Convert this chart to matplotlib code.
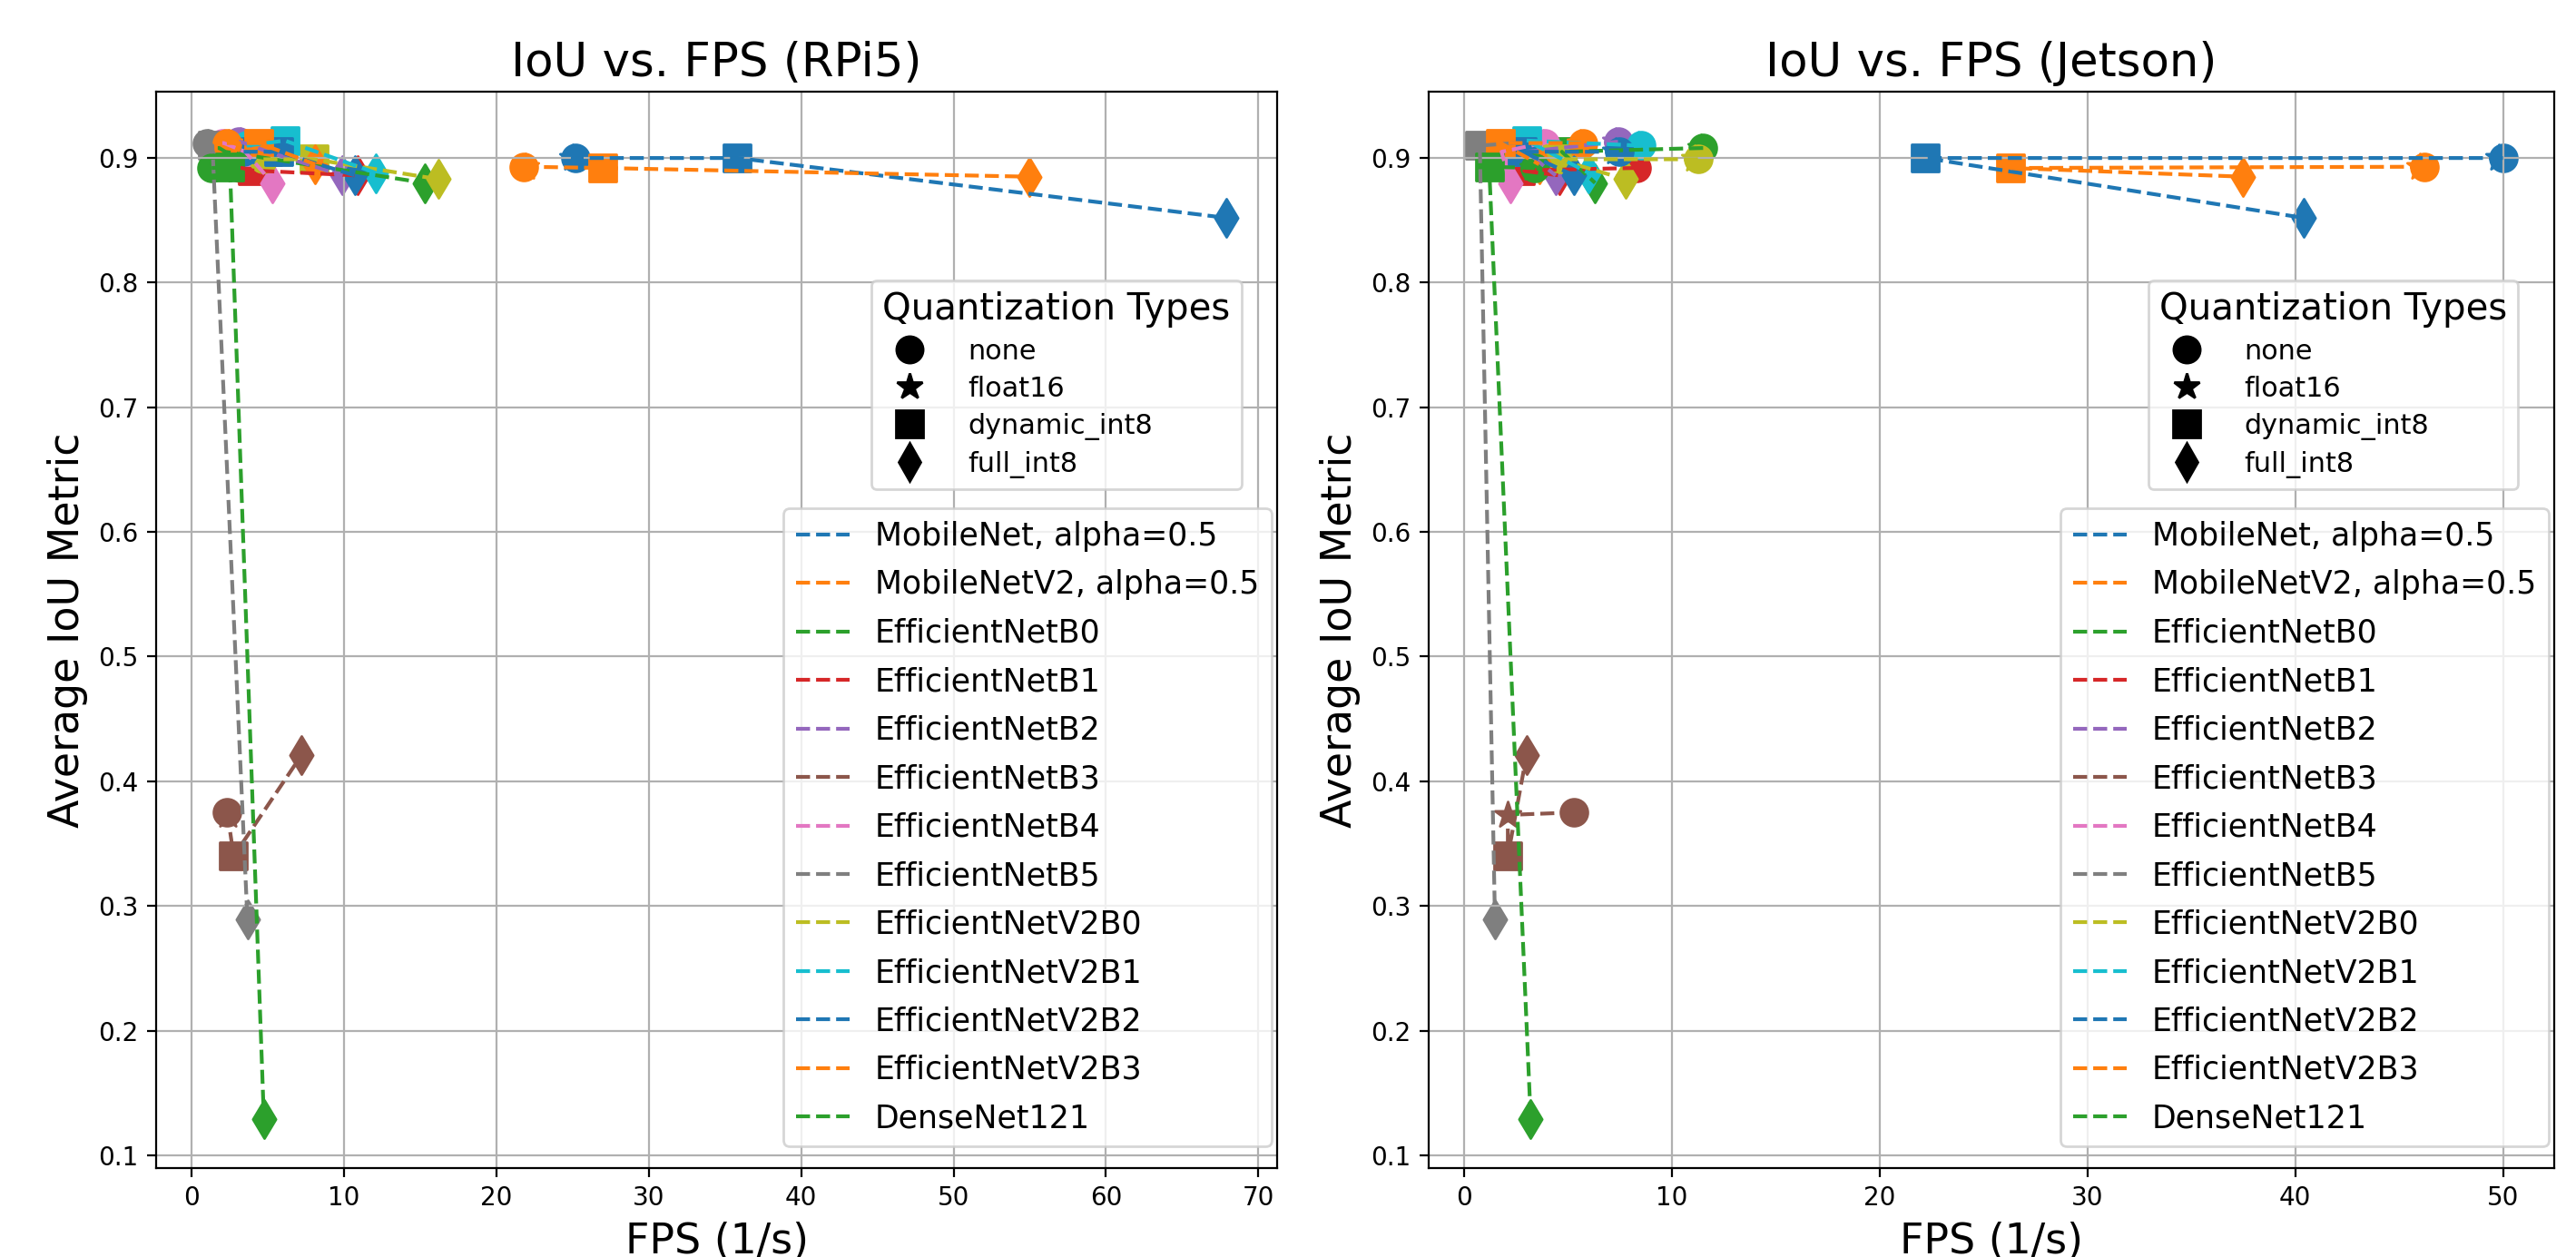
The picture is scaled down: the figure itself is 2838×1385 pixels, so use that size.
import matplotlib
matplotlib.use("Agg")
import matplotlib.pyplot as plt
from matplotlib.lines import Line2D

models = ["MobileNet, alpha=0.5", "MobileNetV2, alpha=0.5", "EfficientNetB0",
          "EfficientNetB1", "EfficientNetB2", "EfficientNetB3", "EfficientNetB4",
          "EfficientNetB5", "EfficientNetV2B0", "EfficientNetV2B1",
          "EfficientNetV2B2", "EfficientNetV2B3", "DenseNet121"]
quant_types = ["none", "float16", "dynamic_int8", "full_int8"]
quant_markers = ["o", "*", "s", "d"]

# IoU per model, order: none, float16, dynamic_int8, full_int8
iou = [
    [0.900, 0.900, 0.900, 0.852],
    [0.893, 0.893, 0.892, 0.885],
    [0.908, 0.908, 0.905, 0.880],
    [0.892, 0.892, 0.890, 0.886],
    [0.913, 0.913, 0.905, 0.886],
    [0.375, 0.373, 0.340, 0.421],
    [0.912, 0.912, 0.905, 0.880],
    [0.912, 0.912, 0.910, 0.289],
    [0.899, 0.899, 0.899, 0.883],
    [0.910, 0.910, 0.914, 0.888],
    [0.905, 0.905, 0.905, 0.886],
    [0.912, 0.912, 0.912, 0.895],
    [0.892, 0.892, 0.893, 0.129],
]

fps_rpi5 = [
    [25.2, 25.0, 35.8, 67.9],
    [21.8, 21.9, 27.0, 55.0],
    [1.7, 1.8, 2.2, 15.3],
    [3.2, 3.3, 4.0, 10.9],
    [3.1, 3.2, 5.0, 9.9],
    [2.3, 2.35, 2.75, 7.2],
    [2.0, 2.1, 3.5, 5.3],
    [1.0, 1.05, 1.35, 3.65],
    [4.7, 4.8, 8.0, 16.2],
    [3.6, 3.7, 6.1, 12.1],
    [3.4, 3.5, 5.7, 10.7],
    [2.3, 2.4, 4.4, 8.1],
    [1.3, 1.4, 2.5, 4.73],
]

fps_jetson = [
    [50.0, 49.8, 22.2, 40.4],
    [46.2, 46.0, 26.3, 37.5],
    [11.5, 11.4, 4.7, 6.3],
    [8.3, 8.2, 2.7, 4.6],
    [7.4, 7.3, 3.0, 4.4],
    [5.3, 2.1, 2.1, 3.0],
    [3.9, 3.8, 1.8, 2.2],
    [2.5, 2.4, 0.75, 1.48],
    [11.25, 11.1, 4.5, 7.75],
    [8.5, 8.4, 3.0, 6.0],
    [7.45, 7.3, 2.8, 5.3],
    [5.7, 5.6, 1.75, 3.6],
    [3.4, 3.3, 1.2, 3.2],
]

devices = ["RPi5", "Jetson"]
fps_all = [fps_rpi5, fps_jetson]

fig = plt.figure(figsize=(14.19, 6.925), dpi=200)
ax_left = fig.add_axes([0.0606, 0.0708, 0.4352, 0.8563])
ax_right = fig.add_axes([0.5546, 0.0708, 0.4369, 0.8563])

for ax, dev, fps in zip([ax_left, ax_right], devices, fps_all):
    for i, name in enumerate(models):
        c = f"C{i % 10}"
        ax.plot(fps[i], iou[i], "--", color=c, lw=1.5, label=name)
        for j, m in enumerate(quant_markers):
            ax.scatter(fps[i][j], iou[i][j], marker=m, color=c, s=115)
    ax.set_title(f"IoU vs. FPS ({dev})", fontsize=18.5)
    ax.set_xlabel("FPS (1/s)", fontsize=16.5)
    ax.set_ylabel("Average IoU Metric", fontsize=16.5)
    ax.grid(True)

    qhandles = [Line2D([], [], marker=m, color="black", linestyle="None", markersize=10.5)
                for m in quant_markers]
    qleg = ax.legend(qhandles, quant_types, title="Quantization Types",
                     loc="upper right", bbox_to_anchor=(0.968, 0.825),
                     borderaxespad=0, fontsize=10.9, title_fontsize=14.5,
                     alignment="left", labelspacing=0.4, handletextpad=1.1)
    ax.add_artist(qleg)
    ax.legend(loc="lower right", bbox_to_anchor=(0.995, 0.02),
              borderaxespad=0, fontsize=12.5, labelspacing=0.56,
              handlelength=1.7)

ax_left.set_xticks(range(0, 71, 10))
ax_right.set_xticks(range(0, 51, 10))

fig.savefig("out.png", dpi=200)
